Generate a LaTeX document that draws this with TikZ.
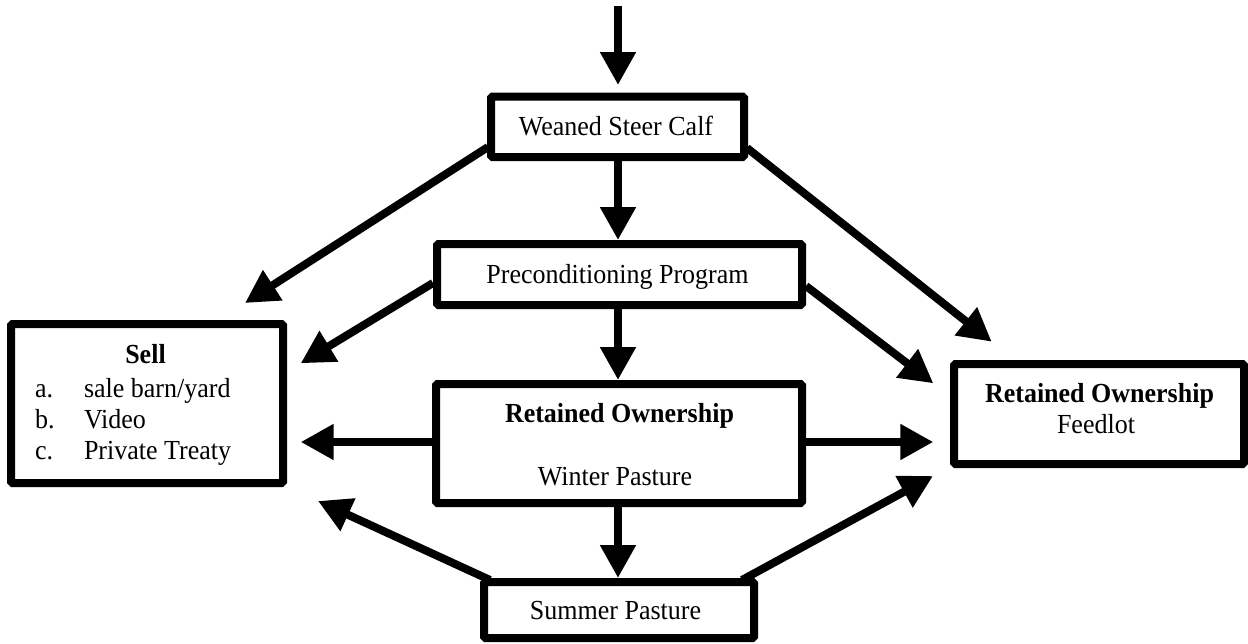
\documentclass[tikz,border=0pt]{standalone}
\usepackage{fontspec}
\setmainfont{Liberation Serif}
\usetikzlibrary{arrows.meta,calc,backgrounds}
\newcommand\tallt[1]{\scalebox{1}[1.06]{#1}}
\begin{document}
\begin{tikzpicture}[x=1pt,y=-1pt,
  box/.style={draw, line width=8pt, fill=white, rounded corners=1.5pt, inner sep=0pt, outer sep=0pt},
  arr/.style={line width=8pt, -{Triangle[length=33pt,width=34pt]}},
  txt/.style={inner sep=0pt, outer sep=0pt, anchor=base, font=\fontsize{26}{30}\selectfont}]
\useasboundingbox (0,0) rectangle (1248,643);
% boxes
\node[box, minimum width=253pt, minimum height=60.5pt] (wsc) at (617.5,126.75) {};
\node[box, minimum width=365pt, minimum height=61pt] (pcp) at (619.5,274.5) {};
\node[box, minimum width=366pt, minimum height=119pt] (win) at (619,443.5) {};
\node[box, minimum width=270pt, minimum height=56pt] (sum) at (619,610) {};
\node[box, minimum width=272pt, minimum height=159pt] (sell) at (147,403.5) {};
\node[box, minimum width=290pt, minimum height=100pt] (feed) at (1099,414) {};
% texts
\node[txt] (twsc) at (616,135) {\tallt{Weaned Steer Calf}};
\node[txt] (tpcp) at (617.5,283) {\tallt{Preconditioning Program}};
\node[txt] (tsell) at (145.5,363) {\tallt{\textbf{Sell}}};
\node[txt, anchor=base west] (la) at (35,397) {\tallt{a.}};
\node[txt, anchor=base west] (ia) at (84,397) {\tallt{sale barn/yard}};
\node[txt, anchor=base west] (lb) at (35,428) {\tallt{b.}};
\node[txt, anchor=base west] (ib) at (84,428) {\tallt{Video}};
\node[txt, anchor=base west] (lc) at (35,459) {\tallt{c.}};
\node[txt, anchor=base west] (ic) at (84,459) {\tallt{Private Treaty}};
\node[txt] (twin1) at (619.5,422) {\tallt{\textbf{Retained Ownership}}};
\node[txt] (twin2) at (615,485) {\tallt{Winter Pasture}};
\node[txt] (tfeed1) at (1099.5,402) {\tallt{\textbf{Retained Ownership}}};
\node[txt] (tfeed2) at (1096,433) {\tallt{Feedlot}};
\node[txt] (tsum) at (615.5,619) {\tallt{Summer Pasture}};
% connectors
\begin{scope}[on background layer]
\coordinate (src) at (618,6);
\draw[arr, shorten >=11.5pt] (src) -- (src |- wsc.north);
\draw[arr] ($(wsc.south west)+(-3,-10)$) -- ($(sell.north east)+(-38,-21)$);
\draw[arr] ($(wsc.south east)+(3,-9)$) -- ($(feed.north west)+(37.7,-22.3)$);
\draw[arr] ($(wsc.south)+(0.5,0)$) -- ($(pcp.north)+(-1.5,-4)$);
\draw[arr] ($(pcp.south)+(-1.5,0)$) -- ($(win.north)+(-1,-4)$);
\draw[arr] ($(win.south)+(-1,0)$) -- ($(sum.north)+(-1,-4)$);
\draw[arr] ($(pcp.south west)+(-4,-22)$) -- ($(sell.north east)+(17.7,39.3)$);
\draw[arr] ($(pcp.south east)+(4,-19)$) -- ($(feed.north west)+(-20.7,19.3)$);
\draw[arr] ($(win.west)+(-4,-1.5)$) -- ($(sell.east |- win.west)+(17.7,-1.5)$);
\draw[arr] ($(win.east)+(4,-1.5)$) -- ($(feed.west |- win.east)+(-20.7,-1.5)$);
\draw[arr] ($(sum.north west)+(6,-2)$) -- ($(sell.south east)+(35,18)$);
\draw[arr] ($(sum.north east)+(-12,-2)$) -- ($(feed.south west)+(-21,12)$);
\end{scope}
\end{tikzpicture}
\end{document}
